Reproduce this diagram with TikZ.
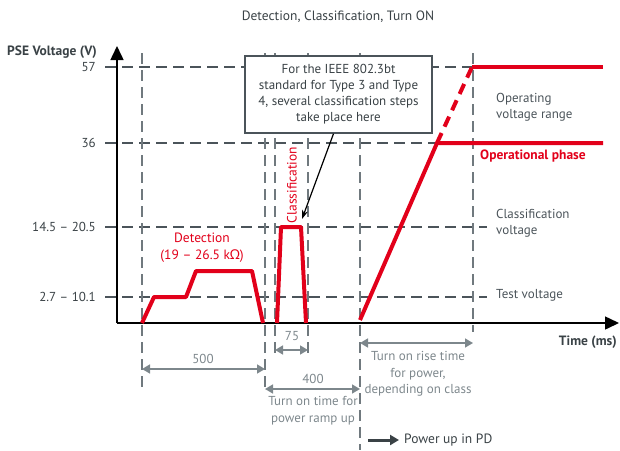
\documentclass[tikz,border=0pt]{standalone}
\usepackage{fontspec}
\setmainfont{PT Sans}
\newfontfamily\grk{Noto Sans}
\usetikzlibrary{arrows.meta}
\definecolor{pred}{HTML}{E2001A}
\definecolor{dgray}{HTML}{4B545A}
\definecolor{mgray}{HTML}{7D878C}
\definecolor{tgray}{HTML}{4B545A}
\definecolor{dark}{HTML}{3A4246}
\tikzset{
  grid/.style={dgray,line width=1.4pt,dash pattern=on 11pt off 6pt},
  vgrid/.style={mgray!90!black,line width=1.4pt,dash pattern=on 11pt off 6pt},
  trace/.style={pred,line width=4pt,line join=round},
  dim/.style={mgray,line width=1.5pt,{Triangle[width=9pt,length=8pt]}-{Triangle[width=9pt,length=8pt]}},
  lbl/.style={font=\fontsize{13}{16}\selectfont,inner sep=0pt},
  glbl/.style={lbl,text=tgray},
  dlbl/.style={lbl,text=mgray,align=center},
  rlbl/.style={lbl,text=pred},
}
\begin{document}
\begin{tikzpicture}[x=1pt,y=-1pt]
\useasboundingbox (0,0) rectangle (620,450);
% title
\node[lbl,text=dark,font=\fontsize{13.5}{16}\selectfont] (title) at (338,17) {Detection, Classification, Turn ON};
% grid horizontal
\draw[grid] (105,67) -- (472,67);
\draw[grid] (105,143) -- (437,143);
\draw[grid] (105,227) -- (487,227);
\draw[grid] (105,297) -- (487,297);
% grid vertical
\draw[vgrid] (142,53) -- (142,393);
\draw[vgrid] (265,53) -- (265,393);
\draw[vgrid] (275,53) -- (275,355);
\draw[vgrid] (308,53) -- (308,355);
\draw[vgrid] (360,53) -- (360,450);
\draw[vgrid] (473,53) -- (473,332);
% axes
\coordinate (o) at (117,323);
\coordinate (ytip) at (117,46);
\coordinate (xtip) at (619,323);
\draw[black,line width=1.5pt,-{Triangle[width=13pt,length=14pt]}] (o) -- (ytip);
\draw[black,line width=1.5pt,-{Triangle[width=13pt,length=14pt]}] (o) -- (xtip);
% axis labels
\node[lbl,anchor=east,font=\fontsize{13.5}{15}\selectfont\bfseries,text=dark] (ylab) at (97,52) {PSE Voltage (V)};
\node[lbl,anchor=east,font=\fontsize{13.5}{15}\selectfont\bfseries,text=dark] (xlab) at (617,342) {Time (ms)};
\node[glbl,anchor=east,text=dark] (v57) at (96,67) {57};
\node[glbl,anchor=east,text=dark] (v36) at (96,143) {36};
\node[glbl,anchor=east,text=dark] (v14) at (96,227) {14.5 – 20.5};
\node[glbl,anchor=east,text=dark] (v2) at (96,297) {2.7 – 10.1};
% red traces
\draw[trace] (142,323) -- (154,297) -- (186,297) -- (196,271) -- (252,271) -- (263,323);
\draw[trace] (277,323) -- (281,227) -- (301,227) -- (306,323);
\draw[trace] (360,320) -- (437,143) -- (603,143);
\draw[trace] (472,67) -- (603,67);
\draw[trace,dash pattern=on 11pt off 7pt,line cap=butt] (437,143) -- (472,67);
% red labels
\node[rlbl,align=center,font=\fontsize{13.5}{17}\selectfont] (det) at (202,248) {Detection\\(19 – 26.5 k{\grk Ω})};
\node[rlbl,rotate=90,font=\fontsize{13.5}{16}\selectfont] (cls) at (292,185) {Classification};
\node[rlbl,anchor=west,font=\fontsize{13.5}{15}\selectfont\bfseries] (op) at (480,156) {Operational phase};
% right gray labels
\node[glbl,anchor=west,align=left] (ovr) at (496,107) {Operating\\voltage range};
\node[glbl,anchor=west,align=left] (cv) at (496,223) {Classification\\voltage};
\node[glbl,anchor=west] (tv) at (496,295) {Test voltage};
% box
\node[draw=dgray,line width=1.4pt,fill=white,minimum width=187pt,minimum height=77pt,align=center,font=\fontsize{13}{16}\selectfont,text=dark,inner sep=0pt] (box) at (338.5,94.5) {For the IEEE 802.3bt\\standard for Type 3 and Type\\4, several classification steps\\take place here};
\coordinate (ctgt) at (302,219);
\draw[black,line width=1.2pt,-{Stealth[length=9pt,width=6pt]}] (box.south) ++(-5,0) coordinate (bs) -- (ctgt);
% dimension arrows
\coordinate (d500a) at (142,369); \coordinate (d500b) at (265,369);
\draw[dim] (d500a) -- (d500b);
\node[dlbl] (l500) at (203,359) {500};
\coordinate (d75a) at (275,350); \coordinate (d75b) at (308,350);
\draw[dim] (d75a) -- (d75b);
\node[dlbl] (l75) at (292,336) {75};
\coordinate (d400a) at (265,389); \coordinate (d400b) at (360,389);
\draw[dim] (d400a) -- (d400b);
\node[dlbl] (l400) at (313,379) {400};
\node[dlbl,font=\fontsize{13}{17}\selectfont] (t400) at (313,411) {Turn on time for\\power ramp up};
\coordinate (drisea) at (360,343); \coordinate (driseb) at (473,343);
\draw[dim] (drisea) -- (driseb);
\node[dlbl,font=\fontsize{13}{16.5}\selectfont] (trise) at (418,374) {Turn on rise time\\for power,\\depending on class};
% power up legend
\coordinate (pua) at (368,440); \coordinate (pub) at (399,440);
\draw[dark,line width=3pt,-{Triangle[width=10pt,length=9pt]}] (pua) -- (pub);
\node[lbl,anchor=west,text=dark,font=\fontsize{13.5}{15}\selectfont] (pu) at (404,440) {Power up in PD};
\end{tikzpicture}
\end{document}
